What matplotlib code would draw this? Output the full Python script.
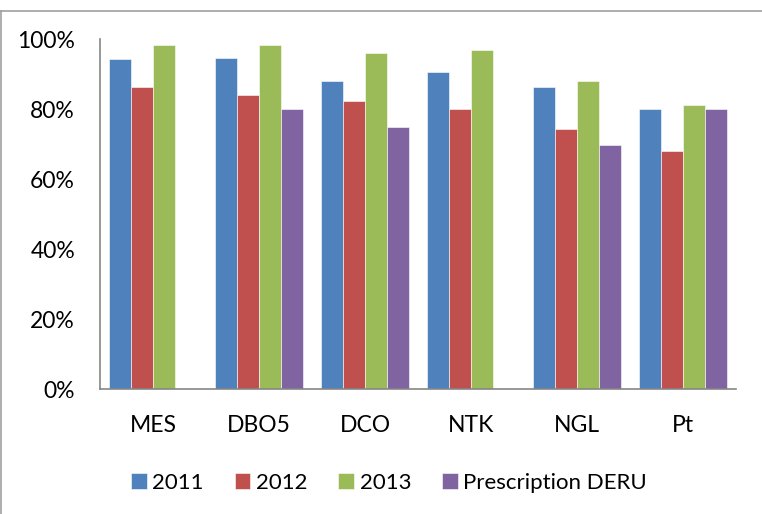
import numpy as np
import matplotlib.pyplot as plt
from matplotlib.lines import Line2D
from matplotlib.ticker import FuncFormatter

categories = ['MES', 'DBO5', 'DCO', 'NTK', 'NGL', 'Pt']
series_names = ['2011', '2012', '2013', 'Prescription DERU']
v2011 = [94.2, 94.7, 87.9, 90.7, 86.2, 80.0]
v2012 = [86.2, 83.9, 82.3, 80.0, 74.2, 67.9]
v2013 = [98.2, 98.2, 95.9, 96.9, 87.9, 81.1]
vderu = [np.nan, 80.0, 75.0, np.nan, 69.6, 80.0]
colors = ['#4F81BD', '#C0504D', '#9BBB59', '#8064A2']

plt.rcParams['font.family'] = ['Lato', 'DejaVu Sans']

W, H = 762, 514
fig = plt.figure(figsize=(W / 100, H / 100), dpi=100)
ax = fig.add_axes([100 / W, (H - 389) / H, 636 / W, 350 / H])

x = np.arange(len(categories))
bw = 0.83 / 4
for i, vals in enumerate([v2011, v2012, v2013, vderu]):
    ax.bar(x + (i - 1.5) * bw, vals, bw, color=colors[i],
           edgecolor='white', linewidth=0.4, label=series_names[i])

ax.set_xlim(-0.5, len(categories) - 0.5)
ax.set_ylim(0, 100)
ax.set_yticks(np.arange(0, 101, 20))
ax.yaxis.set_major_formatter(FuncFormatter(lambda v, p: '%d%%' % v))
ax.set_xticks(x)
ax.set_xticklabels(categories)
ax.tick_params(axis='y', length=0, pad=18, labelsize=16.5)
ax.tick_params(axis='x', length=0, pad=19, labelsize=16.5)
for s in ['top', 'right']:
    ax.spines[s].set_visible(False)
for s in ['left', 'bottom']:
    ax.spines[s].set_color('#868686')
    ax.spines[s].set_linewidth(1.2)

fig.legend(loc='center', bbox_to_anchor=(389 / W, (H - 483) / H), ncol=4,
           frameon=False, fontsize=16, handlelength=0.7, handleheight=0.7,
           handletextpad=0.25, columnspacing=1.4)

# partial chart frame (top and left edges)
fig.add_artist(Line2D([0, 1], [1 - 11 / H, 1 - 11 / H], color='#A0A0A0', lw=1.2))
fig.add_artist(Line2D([1 / W, 1 / W], [0, 1 - 11 / H], color='#A0A0A0', lw=1.2))

fig.savefig('out.png', dpi=100)
